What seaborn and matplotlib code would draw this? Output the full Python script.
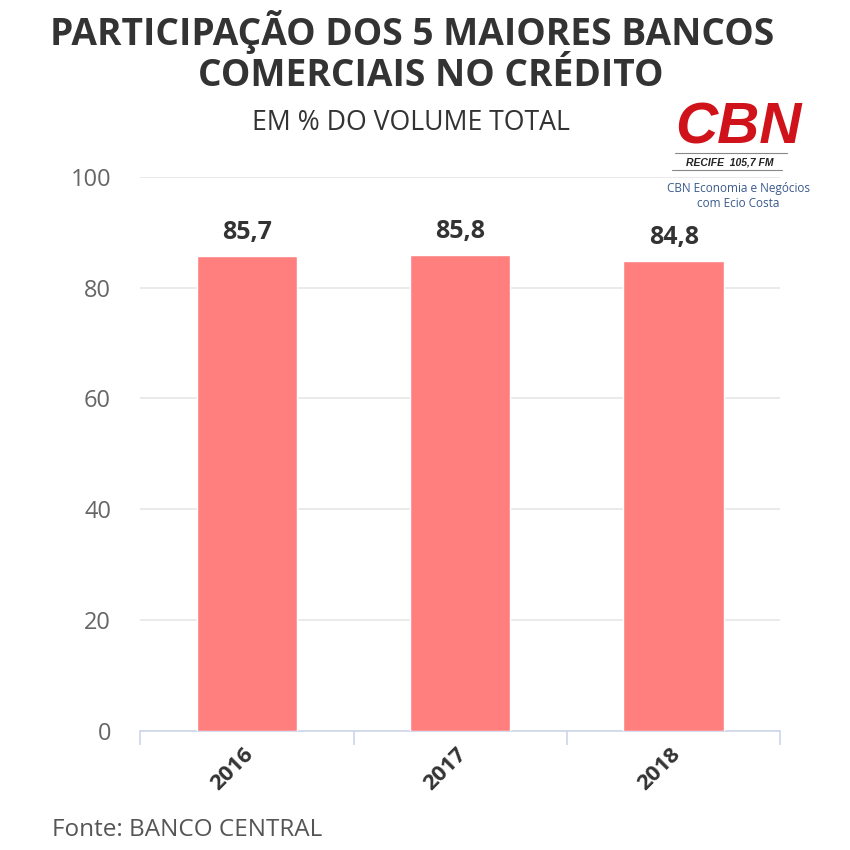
import matplotlib
matplotlib.use("Agg")
import matplotlib.pyplot as plt
import matplotlib.transforms as mtransforms
from matplotlib.lines import Line2D
import seaborn as sns
import pandas as pd

# data
anos = ["2016", "2017", "2018"]
participacao = [85.7, 85.8, 84.8]
rotulos = ["85,7", "85,8", "84,8"]
y_ticks = [0, 20, 40, 60, 80, 100]

df = pd.DataFrame({"ano": anos, "valor": participacao})

sns.set_theme(style="white")
plt.rcParams["font.family"] = ["Open Sans", "DejaVu Sans"]

fig = plt.figure(figsize=(8.5, 8.5), dpi=100)
ax = fig.add_axes([0.165, 0.14, 0.753, 0.652])

sns.barplot(data=df, x="ano", y="valor", color="#ff7f7f", saturation=1,
            width=0.47, ax=ax, zorder=3)

ax.set_ylim(0, 100)
ax.set_xlim(-0.5, 2.5)
ax.set_yticks(y_ticks)
ax.set_yticklabels([str(t) for t in y_ticks], color="#666666", fontsize=17)
ax.yaxis.grid(True, color="#e6e6e6", linewidth=1.2, zorder=0)
ax.tick_params(axis="y", length=0, pad=21)

ax.set_xticks(range(len(anos)))
ax.set_xticklabels(anos, rotation=45, ha="right", rotation_mode="anchor",
                   fontsize=16, fontweight="bold", color="#333333")
ax.tick_params(axis="x", length=0, pad=9)
shift = mtransforms.ScaledTranslation(-4 / 100, 0, fig.dpi_scale_trans)
for lbl in ax.get_xticklabels():
    lbl.set_transform(lbl.get_transform() + shift)
ax.set_xticks([-0.5, 0.5, 1.5, 2.5], minor=True)
ax.tick_params(axis="x", which="minor", length=10, width=1.2, color="#ccd6eb",
               bottom=True)

ax.set_xlabel("")
ax.set_ylabel("")
for s in ["top", "right", "left"]:
    ax.spines[s].set_visible(False)
ax.spines["bottom"].set_color("#ccd6eb")
ax.spines["bottom"].set_linewidth(1.2)

for i, (v, t) in enumerate(zip(participacao, rotulos)):
    ax.annotate(t, (i, v), xytext=(0, 8), textcoords="offset points",
                ha="center", va="bottom", fontsize=18, fontweight="bold",
                color="#333333")

# titles
fig.text(0.485, 0.962, "PARTICIPAÇÃO DOS 5 MAIORES BANCOS", ha="center",
         va="center", fontsize=26.7, fontweight="bold", color="#333333")
fig.text(0.507, 0.911, "COMERCIAIS NO CRÉDITO", ha="center",
         va="center", fontsize=26.7, fontweight="bold", color="#333333")
fig.text(0.484, 0.855, "EM % DO VOLUME TOTAL", ha="center", va="center",
         fontsize=19.2, color="#333333")

# source
fig.text(0.061, 0.023, "Fonte: BANCO CENTRAL", ha="left", va="center",
         fontsize=17.5, color="#555555")

# CBN logo
fig.text(0.869, 0.849, "CBN", ha="center", va="center", fontsize=42,
         fontweight="bold", fontstyle="italic", color="#d0121b",
         family=["Liberation Sans", "DejaVu Sans"])
fig.add_artist(Line2D([0.794, 0.926], [0.82, 0.82], color="#888888", lw=0.8))
fig.text(0.859, 0.809, "RECIFE  105,7 FM", ha="center", va="center",
         fontsize=7.5, fontweight="bold", fontstyle="italic", color="#222222",
         family=["Liberation Sans", "DejaVu Sans"])
fig.add_artist(Line2D([0.791, 0.92], [0.80, 0.80], color="#888888", lw=0.8))
fig.text(0.869, 0.778, "CBN Economia e Negócios", ha="center", va="center",
         fontsize=8.5, color="#3a5a8c")
fig.text(0.869, 0.761, "com Ecio Costa", ha="center", va="center",
         fontsize=8.5, color="#3a5a8c")

fig.savefig("out.png", dpi=100, facecolor="white")
